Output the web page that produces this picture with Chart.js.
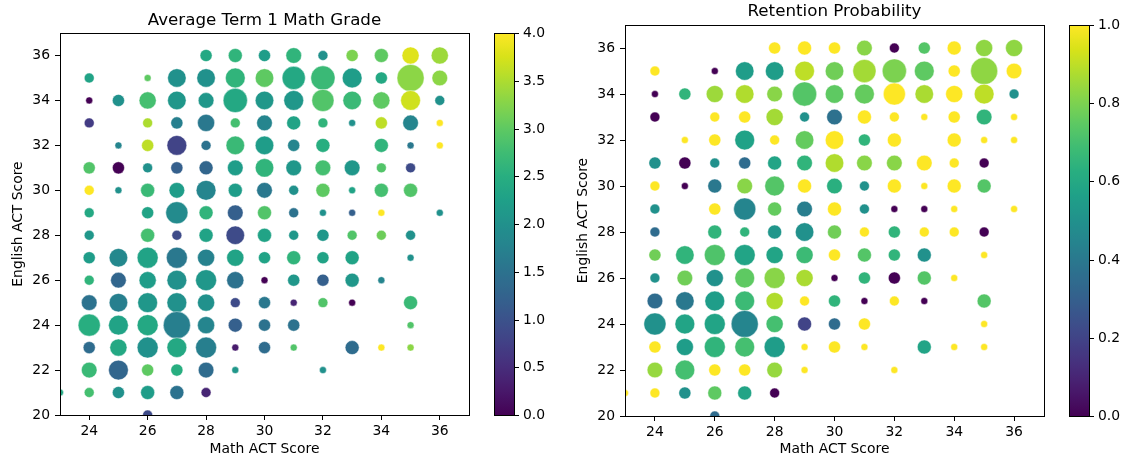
<!DOCTYPE html>
<html>
<head>
<meta charset="utf-8">
<script src="https://cdn.jsdelivr.net/npm/chart.js@4.4.1/dist/chart.umd.min.js"></script>
<style>
  body { margin: 0; background: #fff; }
  canvas { position: absolute; top: 0; }
  #grade-canvas { left: 0; }
  #retention-canvas { left: 563px; }
</style>
</head>
<body>
<canvas id="grade-canvas" width="563" height="461"></canvas>
<canvas id="retention-canvas" width="564" height="461"></canvas>
<script>
// one entry per (math, english) cell, listed row by row from English 36 down to 20
const mathScore = [
    28, 29, 30, 31, 32, 33, 34, 35, 36,
    24, 26, 27, 28, 29, 30, 31, 32, 33, 34, 35, 36,
    24, 25, 26, 27, 28, 29, 30, 31, 32, 33, 34, 35, 36,
    24, 26, 27, 28, 29, 30, 31, 32, 33, 34, 35, 36,
    25, 26, 27, 28, 29, 30, 31, 32, 34, 35, 36,
    24, 25, 26, 27, 28, 29, 30, 31, 32, 33, 34, 35,
    24, 25, 26, 27, 28, 29, 30, 31, 32, 33, 34, 35,
    24, 26, 27, 28, 29, 30, 31, 32, 33, 34, 36,
    24, 26, 27, 28, 29, 30, 31, 32, 33, 34, 35,
    24, 25, 26, 27, 28, 29, 30, 31, 32, 33, 35,
    24, 25, 26, 27, 28, 29, 30, 31, 32, 33, 34,
    24, 25, 26, 27, 28, 29, 30, 31, 32, 33, 35,
    24, 25, 26, 27, 28, 29, 30, 31, 35,
    24, 25, 26, 27, 28, 29, 30, 31, 33, 34, 35,
    24, 25, 26, 27, 28, 29, 32,
    23, 24, 25, 26, 27, 28,
    26
];
const englishScore = [
    36, 36, 36, 36, 36, 36, 36, 36, 36,
    35, 35, 35, 35, 35, 35, 35, 35, 35, 35, 35, 35,
    34, 34, 34, 34, 34, 34, 34, 34, 34, 34, 34, 34, 34,
    33, 33, 33, 33, 33, 33, 33, 33, 33, 33, 33, 33,
    32, 32, 32, 32, 32, 32, 32, 32, 32, 32, 32,
    31, 31, 31, 31, 31, 31, 31, 31, 31, 31, 31, 31,
    30, 30, 30, 30, 30, 30, 30, 30, 30, 30, 30, 30,
    29, 29, 29, 29, 29, 29, 29, 29, 29, 29, 29,
    28, 28, 28, 28, 28, 28, 28, 28, 28, 28, 28,
    27, 27, 27, 27, 27, 27, 27, 27, 27, 27, 27,
    26, 26, 26, 26, 26, 26, 26, 26, 26, 26, 26,
    25, 25, 25, 25, 25, 25, 25, 25, 25, 25, 25,
    24, 24, 24, 24, 24, 24, 24, 24, 24,
    23, 23, 23, 23, 23, 23, 23, 23, 23, 23, 23,
    22, 22, 22, 22, 22, 22, 22,
    21, 21, 21, 21, 21, 21,
    20
];
// number of students in each cell (bubble area)
const studentCount = [
    3, 4, 3, 5, 2, 3, 4, 6, 6,
    2, 1, 7, 7, 8, 7, 11, 12, 8, 3, 15, 5,
    1, 3, 6, 7, 5, 12, 7, 8, 10, 7, 6, 8, 2,
    2, 2, 3, 6, 2, 5, 4, 2, 1, 3, 5, 1,
    1, 3, 8, 2, 7, 7, 3, 4, 4, 1, 1,
    3, 3, 2, 3, 4, 5, 7, 5, 5, 5, 2, 2,
    2, 1, 4, 5, 8, 4, 5, 2, 4, 1, 4, 4,
    2, 3, 10, 4, 5, 4, 2, 1, 1, 1, 1,
    2, 4, 2, 4, 7, 4, 2, 3, 2, 2, 2,
    3, 7, 9, 9, 6, 6, 3, 4, 3, 4, 1,
    2, 5, 6, 8, 9, 6, 1, 3, 3, 4, 1,
    5, 7, 8, 8, 6, 2, 3, 1, 2, 1, 4,
    10, 8, 9, 15, 6, 4, 3, 3, 1,
    3, 6, 9, 8, 9, 1, 3, 1, 4, 1, 1,
    5, 8, 3, 3, 5, 1, 1,
    1, 2, 3, 4, 4, 2,
    2
];
const avgGrade = [
    2.4, 2.6, 2.2, 2.6, 2.0, 3.2, 3.0, 3.8, 3.4,
    2.3, 3.0, 2.0, 2.0, 2.6, 3.0, 2.4, 2.7, 2.2, 2.4, 3.3, 3.3,
    0.0, 2.0, 2.8, 2.1, 2.1, 2.4, 2.1, 2.1, 2.9, 2.7, 3.0, 3.7, 2.0,
    0.7, 3.5, 1.7, 1.6, 2.8, 1.8, 2.3, 2.6, 2.0, 3.6, 1.8, 4.0,
    1.8, 3.6, 0.8, 1.5, 2.7, 2.2, 1.8, 2.5, 2.6, 1.6, 4.0,
    2.9, 0.0, 2.0, 1.2, 1.3, 2.2, 2.6, 2.1, 2.8, 2.1, 2.9, 0.9,
    4.0, 2.0, 2.7, 2.2, 1.8, 2.2, 1.6, 2.0, 3.0, 2.3, 2.8, 2.9,
    2.4, 2.3, 1.9, 2.6, 1.2, 2.9, 1.5, 2.0, 1.2, 4.0, 2.0,
    2.1, 2.8, 0.9, 2.3, 0.9, 2.3, 2.1, 2.1, 2.9, 3.1, 2.0,
    2.2, 1.85, 2.3, 1.6, 1.75, 2.3, 2.3, 2.6, 2.3, 2.3, 2.0,
    2.6, 1.3, 2.2, 2.0, 2.1, 1.5, 0.0, 2.1, 1.2, 2.1, 1.8,
    1.5, 1.7, 2.1, 2.0, 2.0, 0.9, 1.6, 0.4, 2.9, 0.0, 2.7,
    2.5, 2.3, 2.4, 1.7, 1.8, 1.2, 1.5, 1.5, 2.9,
    1.4, 2.4, 2.0, 2.4, 1.7, 0.3, 1.4, 2.9, 1.4, 4.0, 3.3,
    2.7, 1.3, 3.0, 2.5, 1.4, 2.1, 2.0,
    2.4, 2.8, 2.0, 2.2, 1.5, 0.4,
    0.9
];
const retention = [
    1, 1, 1, 0.82, 0, 0.73, 1, 0.83, 0.83,
    1, 0, 0.55, 0.55, 0.9, 0.78, 0.86, 0.8, 0.75, 1, 0.83, 1,
    0, 0.65, 0.85, 0.88, 0.82, 0.73, 0.75, 0.76, 1, 0.87, 1, 0.9, 0.5,
    0, 1, 1, 0.86, 0.5, 0.37, 1, 1, 1, 1, 0.65, 1,
    1, 1, 0.57, 1, 0.76, 1, 0.65, 1, 1, 1, 1,
    0.5, 0, 0.5, 0.35, 0.58, 0.65, 0.88, 0.82, 0.82, 1, 1, 0,
    1, 0, 0.4, 0.82, 0.73, 1, 0.63, 0.5, 1, 1, 1, 0.73,
    0.5, 1, 0.45, 0.76, 0.42, 1, 0.5, 0, 0, 1, 1,
    0.35, 0.65, 0.65, 0.52, 0.5, 0.78, 1, 0.65, 1, 1, 0,
    0.78, 0.65, 0.72, 0.58, 0.58, 0.68, 1, 0.73, 0.65, 0.5, 1,
    0.5, 0.78, 0.5, 0.75, 0.82, 0.87, 0, 0.65, 0, 0.73, 1,
    0.35, 0.4, 0.55, 0.68, 0.88, 1, 0.65, 0, 1, 0, 0.73,
    0.5, 0.58, 0.58, 0.45, 0.7, 0.2, 0.35, 1, 1,
    1, 0.55, 0.65, 0.7, 0.55, 1, 1, 1, 0.58, 1, 1,
    0.84, 0.7, 1, 1, 0.84, 1, 1,
    1, 1, 0.5, 0.75, 0.58, 0,
    0.35
];
const xTicks = [24, 26, 28, 30, 32, 34, 36];
const yTicks = [20, 22, 24, 26, 28, 30, 32, 34, 36];
const gradeBarTicks = [0, 0.5, 1, 1.5, 2, 2.5, 3, 3.5, 4];
const retentionBarTicks = [0, 0.2, 0.4, 0.6, 0.8, 1];

const FONT = "'DejaVu Sans', 'Liberation Sans', sans-serif";

// viridis colormap stops
const VIRIDIS = ['#440154', '#48186a', '#472d7b', '#424086', '#3b528b', '#33638d', '#2c728e', '#26828e',
    '#21918c', '#1fa088', '#28ae80', '#3fbc73', '#5ec962', '#84d44b', '#addc30', '#d8e219', '#fde725'];

function hexToRgb(h) {
    return [parseInt(h.substr(1, 2), 16), parseInt(h.substr(3, 2), 16), parseInt(h.substr(5, 2), 16)];
}

function viridis(t) {
    t = Math.min(1, Math.max(0, t)) * (VIRIDIS.length - 1);
    const i = Math.min(Math.floor(t), VIRIDIS.length - 2);
    const f = t - i;
    const a = hexToRgb(VIRIDIS[i]), b = hexToRgb(VIRIDIS[i + 1]);
    const c = a.map((v, k) => Math.round(v + (b[k] - v) * f));
    return "rgb(" + c.join(",") + ")";
}

// axes frame + colorbar on the right of the plot
const colorbarPlugin = {
    id: "colorbar",
    afterDraw(chart, args, opts) {
        const ctx = chart.ctx;
        const a = chart.chartArea;
        const top = Math.round(a.top), bottom = Math.round(a.bottom);
        ctx.save();
        ctx.strokeStyle = "#000";
        ctx.lineWidth = 1;
        ctx.strokeRect(Math.round(a.left) + 0.5, top + 0.5, Math.round(a.right - a.left), bottom - top);

        const x0 = Math.round(a.right + opts.gap);
        const w = opts.width;
        const grad = ctx.createLinearGradient(0, bottom, 0, top);
        for (let i = 0; i <= 64; i++) {
            grad.addColorStop(i / 64, viridis(i / 64));
        }
        ctx.fillStyle = grad;
        ctx.fillRect(x0, top, w, bottom - top);
        ctx.strokeRect(x0 + 0.5, top + 0.5, w, bottom - top);

        ctx.font = "13.9px " + FONT;
        ctx.fillStyle = "#000";
        ctx.textAlign = "left";
        ctx.textBaseline = "middle";
        opts.ticks.forEach(function (v) {
            const y = Math.round(bottom - (v / opts.max) * (bottom - top)) + 0.5;
            ctx.beginPath();
            ctx.moveTo(x0 + w, y);
            ctx.lineTo(x0 + w + 5, y);
            ctx.stroke();
            ctx.fillText(v.toFixed(1), x0 + w + 9, y);
        });
        ctx.restore();
    }
};

function drawBubbleChart(canvasId, cfg) {
    const points = mathScore.map(function (m, i) {
        return { x: m, y: englishScore[i], r: 3.5 * Math.sqrt(studentCount[i]), v: cfg.values[i] };
    });
    const tickFont = { family: FONT, size: 13.9 };

    return new Chart(document.getElementById(canvasId), {
        type: "bubble",
        data: {
            datasets: [{
                data: points,
                backgroundColor: (c) => c.raw ? viridis(c.raw.v / cfg.max) : "#000",
                borderColor: "rgba(255,255,255,0.9)",
                borderWidth: 0.5,
                clip: 0
            }]
        },
        options: {
            responsive: false,
            animation: false,
            devicePixelRatio: 1,
            events: [],
            layout: { padding: { left: 0, right: cfg.padRight, top: 0, bottom: 0 } },
            plugins: {
                legend: { display: false },
                tooltip: { enabled: false },
                title: {
                    display: true,
                    fullSize: false,   // centre over the plot area, like matplotlib
                    text: cfg.title,
                    color: "#000",
                    font: { family: FONT, size: 16.7, weight: "normal" },
                    padding: { top: cfg.titleTop, bottom: cfg.titleBottom }
                },
                colorbar: { gap: 25, width: 20, max: cfg.max, ticks: cfg.barTicks }
            },
            scales: {
                x: {
                    type: "linear",
                    min: 23,
                    max: 37,
                    afterBuildTicks: (s) => { s.ticks = xTicks.map(v => ({ value: v })); },
                    afterFit: (s) => { s.height = cfg.xHeight; },
                    ticks: { color: "#000", font: tickFont, padding: 3 },
                    grid: { drawOnChartArea: false, drawTicks: true, tickLength: 5, color: "#000" },
                    border: { display: true, color: "#000", width: 1 },
                    title: {
                        display: true,
                        text: "Math ACT Score",
                        color: "#000",
                        font: tickFont,
                        padding: { top: 0, bottom: 3 }
                    }
                },
                y: {
                    type: "linear",
                    min: 20,
                    max: 37,
                    afterBuildTicks: (s) => { s.ticks = yTicks.map(v => ({ value: v })); },
                    afterFit: (s) => { s.width = cfg.yWidth; },
                    ticks: { color: "#000", font: tickFont, padding: 5 },
                    grid: { drawOnChartArea: false, drawTicks: true, tickLength: 5, color: "#000" },
                    border: { display: true, color: "#000", width: 1 },
                    title: {
                        display: true,
                        text: "English ACT Score",
                        color: "#000",
                        font: tickFont,
                        padding: { top: cfg.yTitlePad, bottom: 0 }
                    }
                }
            }
        },
        plugins: [colorbarPlugin]
    });
}

drawBubbleChart("grade-canvas", {
    title: "Average Term 1 Math Grade",
    values: avgGrade,
    max: 4,
    barTicks: gradeBarTicks,
    padRight: 94,
    titleTop: 11,
    titleBottom: 2,
    xHeight: 46,
    yWidth: 60,
    yTitlePad: 10
});

drawBubbleChart("retention-canvas", {
    title: "Retention Probability",
    values: retention,
    max: 1,
    barTicks: retentionBarTicks,
    padRight: 83,
    titleTop: 2,
    titleBottom: 3,
    xHeight: 45,
    yWidth: 62,
    yTitlePad: 12
});
</script>
</body>
</html>
